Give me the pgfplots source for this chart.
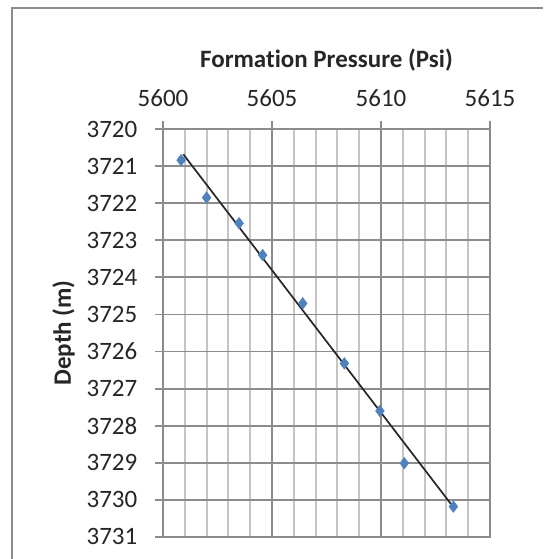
\documentclass[border=0pt]{standalone}
\usepackage{pgfplots}
\pgfplotsset{compat=1.18}
\usepackage{fontspec}
\setmainfont{Carlito}[Ligatures=NoCommon]
\definecolor{ptblue}{HTML}{4F81BD}
\definecolor{majgrid}{HTML}{8C8C8C}
\definecolor{mingrid}{HTML}{C4C4C4}
\definecolor{txt}{HTML}{262626}
\begin{document}
\fontsize{12.5pt}{15pt}\selectfont
\begin{tikzpicture}
% page = 543 x 559 px at 0.5pt per px
\path[use as bounding box] (0pt,0pt) rectangle (271.5pt,-279.5pt);
\draw[majgrid, line width=1pt] (6pt,-279.5pt) -- (6pt,-4pt) -- (271.5pt,-4pt);
\begin{axis}[
  at={(81.5pt,-268.5pt)}, anchor=south west,
  scale only axis, width=163.5pt, height=204pt,
  xmin=5600, xmax=5615, ymin=3720, ymax=3731,
  y dir=reverse,
  xtick={5600,5605,5610,5615}, ytick={3720,...,3731},
  minor x tick num=4, minor y tick num=1,
  xticklabel pos=upper, xtick pos=upper, ytick pos=left,
  tick align=outside, major tick length=4pt, minor tick length=0pt,
  major tick style={majgrid, line width=0.9pt},
  grid=both,
  major grid style={majgrid, line width=0.9pt},
  minor grid style={mingrid, line width=1pt},
  axis line style={majgrid, line width=0.9pt},
  /pgf/number format/.cd, use comma=false, 1000 sep={}, assume math mode=true,
  /pgfplots/.cd,
  tick label style={font=\fontsize{12.5pt}{15pt}\selectfont, text=txt},
  xticklabel style={yshift=3pt},
  yticklabel style={xshift=-4.5pt},
]
\addplot[only marks, mark=diamond*, mark size=2.8pt, color=ptblue] coordinates {
  (5600.83,3720.84) (5602.00,3721.85) (5603.49,3722.54) (5604.57,3723.40)
  (5606.41,3724.70) (5608.32,3726.32) (5609.95,3727.60) (5611.07,3729.01)
  (5613.32,3730.18)};
% linear trend line
\addplot[color=black!85, line width=0.85pt] coordinates {
  (5600.93,3720.68) (5613.39,3730.25)};
\end{axis}
\node[font=\bfseries\fontsize{12.5pt}{15pt}\selectfont, text=txt] at (163.25pt,-30pt) {Formation Pressure (Psi)};
\node[font=\bfseries\fontsize{12.5pt}{15pt}\selectfont, text=txt, rotate=90] at (31.75pt,-166.5pt) {Depth (m)};
\end{tikzpicture}
\end{document}
